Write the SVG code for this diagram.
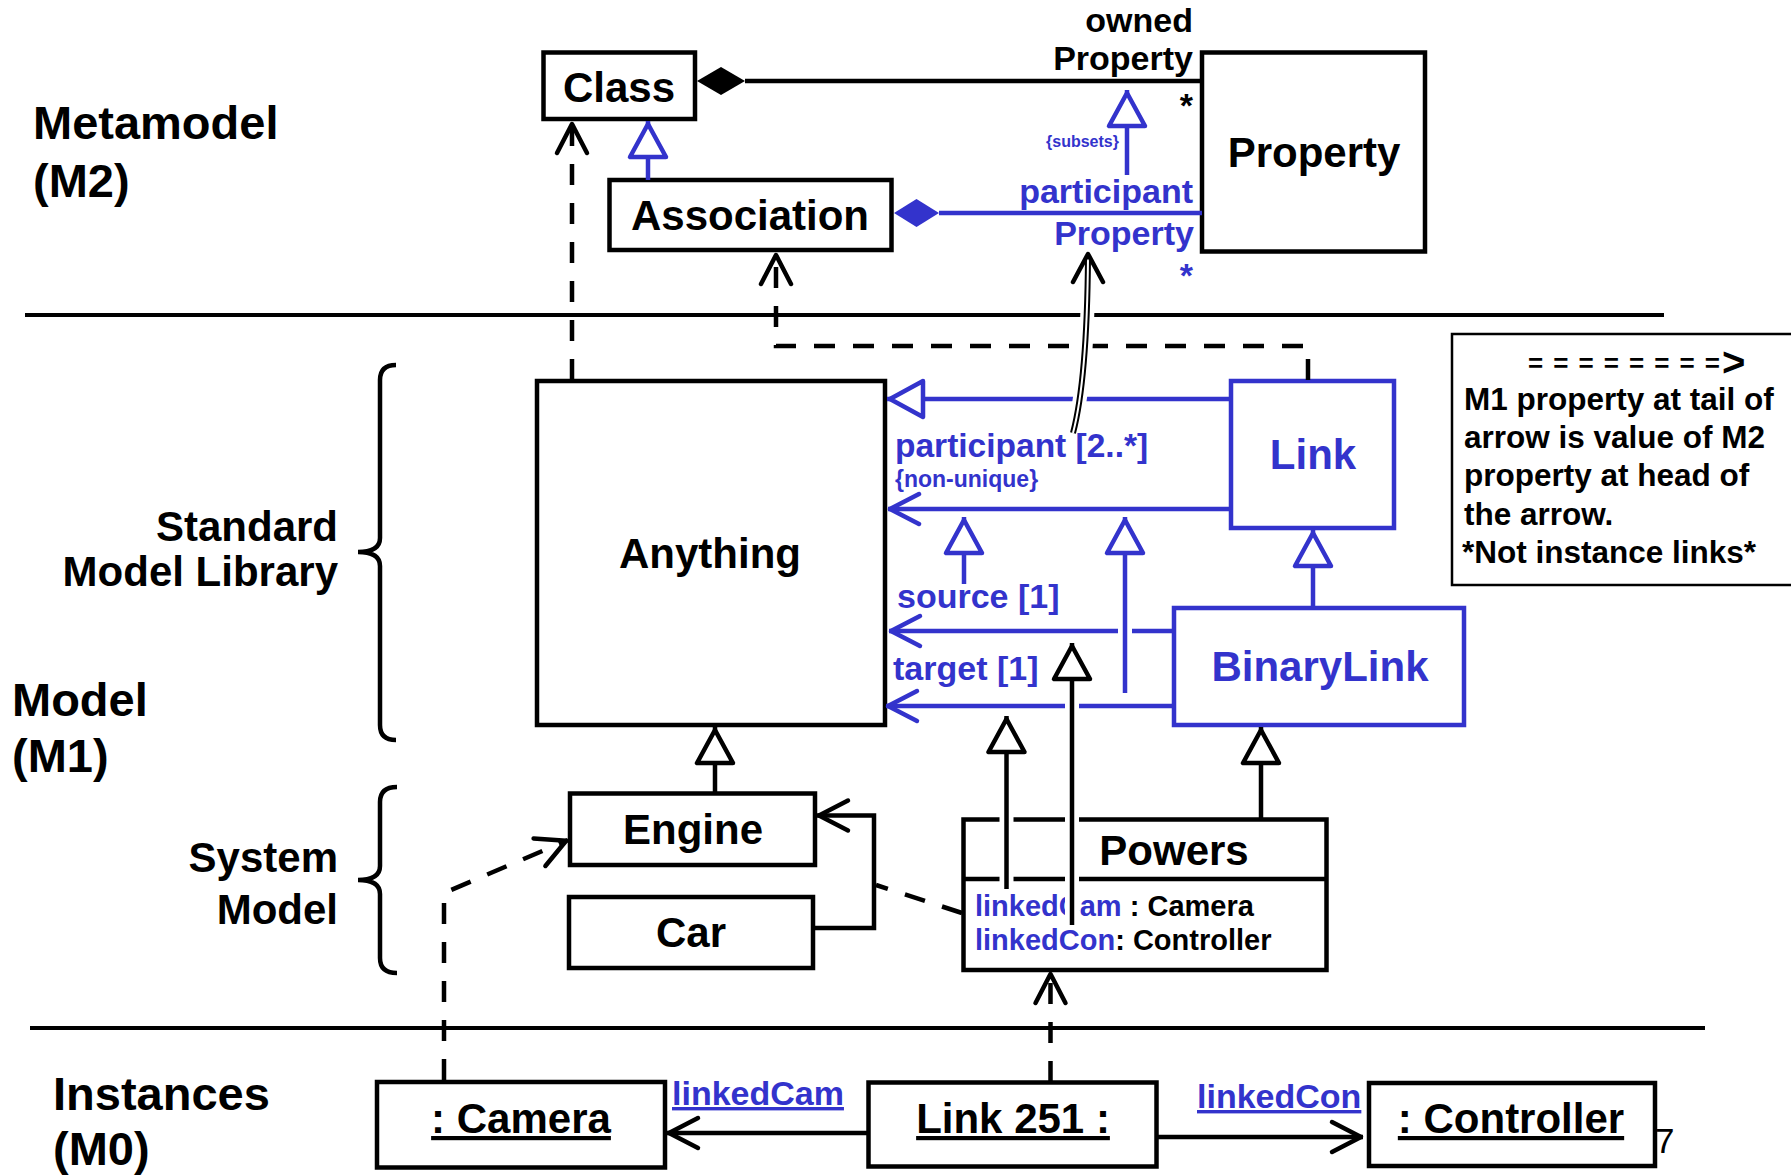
<svg xmlns="http://www.w3.org/2000/svg" width="1791" height="1176" viewBox="0 0 1791 1176">
<style>
text{font-family:"Liberation Sans",Arial,Helvetica,sans-serif;font-weight:bold;fill:#000}
.b{fill:#3333cc}
.box{fill:#fff;stroke:#000;stroke-width:4.5}
.bbox{fill:#fff;stroke:#3333cc;stroke-width:4.5}
.ln{fill:none;stroke:#000;stroke-width:4.5}
.bln{fill:none;stroke:#3333cc;stroke-width:4.5}
.dash{stroke-dasharray:21 18}
.halo{fill:none;stroke:#fff;stroke-width:14}
.sep{fill:none;stroke:#000;stroke-width:4}
.n42{font-size:42px}
.lay{font-size:47px}
.nt{font-size:31.5px}
.m{text-anchor:middle}
.e{text-anchor:end}
</style>
<defs>
<marker id="oa" markerUnits="userSpaceOnUse" viewBox="-40 -25 50 50" markerWidth="50" markerHeight="50" refX="0" refY="0" orient="auto" overflow="visible">
<path d="M-31,-15 L-2,0 L-31,15" fill="none" stroke="#000" stroke-width="4.5" stroke-linecap="round" stroke-linejoin="round"/>
</marker>
<marker id="oab" markerUnits="userSpaceOnUse" viewBox="-40 -25 50 50" markerWidth="50" markerHeight="50" refX="0" refY="0" orient="auto" overflow="visible">
<path d="M-31,-15 L-2,0 L-31,15" fill="none" stroke="#3333cc" stroke-width="4.5" stroke-linecap="round" stroke-linejoin="round"/>
</marker>
<marker id="ht" markerUnits="userSpaceOnUse" viewBox="-45 -25 50 50" markerWidth="50" markerHeight="50" refX="0" refY="0" orient="auto" overflow="visible">
<path d="M-3,0 L-36,-18 L-36,18 Z" fill="#fff" stroke="#000" stroke-width="4.5" stroke-linejoin="round"/>
</marker>
<marker id="htb" markerUnits="userSpaceOnUse" viewBox="-45 -25 50 50" markerWidth="50" markerHeight="50" refX="0" refY="0" orient="auto" overflow="visible">
<path d="M-3,0 L-36,-18 L-36,18 Z" fill="#fff" stroke="#3333cc" stroke-width="4.5" stroke-linejoin="round"/>
</marker>
</defs>
<rect width="1791" height="1176" fill="#fff"/>

<g id="layers">
<path class="sep" d="M25,315 H1664"/>
<path class="sep" d="M30,1028 H1705"/>
<text x="33" y="139" class="lay">Metamodel</text>
<text x="33" y="197" class="lay">(M2)</text>
<text x="338" y="541" class="e n42">Standard</text>
<text x="338" y="586" class="e n42">Model Library</text>
<text x="12" y="716" class="lay">Model</text>
<text x="12" y="772" class="lay">(M1)</text>
<text x="338" y="872" class="e n42">System</text>
<text x="338" y="924" class="e n42">Model</text>
<text x="53" y="1110" class="lay">Instances</text>
<text x="53" y="1165" class="lay">(M0)</text>
<path class="ln" d="M396,365 Q380,365 380,380 L380,538 Q380,552 358,552 Q380,552 380,566 L380,725 Q380,740 396,740"/>
<path class="ln" d="M397,787 Q380,787 380,802 L380,866 Q380,880 358,880 Q380,880 380,894 L380,958 Q380,973 397,973"/>
<text x="1655" y="1153" style="font-size:35px;font-weight:normal">7</text>
</g>

<g id="node-class"><rect class="box" x="543.5" y="52.5" width="151.5" height="66.5"/><text x="619" y="102" class="m n42">Class</text></g>
<g id="node-association"><rect class="box" x="609.5" y="180" width="282" height="70"/><text x="750" y="230" class="m n42">Association</text></g>
<g id="node-property"><rect class="box" x="1202" y="52.5" width="223" height="199"/><text x="1314" y="167" class="m n42">Property</text></g>
<g id="node-anything"><rect class="box" x="537" y="381" width="348" height="344"/><text x="710" y="568" class="m n42">Anything</text></g>
<g id="node-link"><rect class="bbox" x="1231" y="381" width="163" height="147"/><text x="1313" y="469" class="m n42 b">Link</text></g>
<g id="node-binarylink"><rect class="bbox" x="1174" y="608" width="290" height="117"/><text x="1320" y="681" class="m n42 b">BinaryLink</text></g>
<g id="node-engine"><rect class="box" x="570" y="793.5" width="245" height="71.5"/><text x="693" y="844" class="m n42">Engine</text></g>
<g id="node-car"><rect class="box" x="569" y="897" width="244" height="71"/><text x="691" y="947" class="m n42">Car</text></g>
<g id="node-powers"><rect class="box" x="963.5" y="819.5" width="363" height="150.5"/><path class="ln" d="M963.5,879 H1326.5"/><text x="1174" y="865" class="m n42">Powers</text>
<text x="975" y="916" style="font-size:29px"><tspan class="b">linkedCam</tspan> : Camera</text>
<text x="975" y="950" style="font-size:29px"><tspan class="b">linkedCon</tspan>: Controller</text></g>
<g id="node-camera"><rect class="box" x="377" y="1082" width="288" height="85.5"/><text x="521" y="1133" class="m n42" text-decoration="underline">: Camera</text></g>
<g id="node-link251"><rect class="box" x="868.5" y="1082.5" width="288" height="84"/><text x="1013" y="1133" class="m n42" text-decoration="underline">Link 251 :</text></g>
<g id="node-controller"><rect class="box" x="1369" y="1083" width="286" height="83"/><text x="1511" y="1133" class="m n42" text-decoration="underline">: Controller</text></g>
<g id="node-note"><rect x="1452" y="334" width="345" height="251" fill="#fff" stroke="#000" stroke-width="2.5"/>
<text x="1528" y="372" style="font-size:26px" textLength="192" lengthAdjust="spacing">========</text>
<text x="1722" y="376" style="font-size:40px">&gt;</text>
<text x="1464" y="410" class="nt">M1 property at tail of</text>
<text x="1464" y="448" class="nt">arrow is value of M2</text>
<text x="1464" y="486" class="nt">property at head of</text>
<text x="1464" y="525" class="nt">the arrow.</text>
<text x="1462" y="563" class="nt">*Not instance links*</text>
</g>

<g id="connectors">
<path class="ln" d="M745,81 H1202"/>
<polygon points="697,81 721,67 745,81 721,95" fill="#000"/>
<text x="1193" y="32" class="e" style="font-size:34px">owned</text>
<text x="1193" y="70" class="e" style="font-size:34px">Property</text>
<text x="1193" y="117" class="e" style="font-size:34px">*</text>
<path class="bln" d="M939,213 H1202"/>
<polygon points="894,213 916.5,199 939,213 916.5,227" fill="#3333cc"/>
<text x="1193" y="203" class="e b" style="font-size:34px">participant</text>
<text x="1194" y="245" class="e b" style="font-size:34px">Property</text>
<text x="1193" y="287" class="e b" style="font-size:34px">*</text>
<path class="bln" d="M648,180 V121" marker-end="url(#htb)"/>
<path class="bln" d="M1127,175 V90" marker-end="url(#htb)"/>
<text x="1046" y="147" class="b" style="font-size:16px">{subsets}</text>
<path class="ln dash" d="M572,380 V122" marker-end="url(#oa)"/>
<path class="ln dash" d="M1308,380 V346 H776 V253" marker-end="url(#oa)"/>
<path class="bln" d="M1231,399 H887" marker-end="url(#htb)"/>
<path class="bln" d="M1231,509 H888" marker-end="url(#oab)"/>
<text x="895" y="457" class="b" style="font-size:33.5px">participant [2..*]</text>
<text x="895" y="487" class="b" style="font-size:23px">{non-unique}</text>
<path class="bln" d="M1174,631 H889" marker-end="url(#oab)"/>
<text x="897" y="608" class="b" style="font-size:34px">source [1]</text>
<path class="bln" d="M1174,706 H886" marker-end="url(#oab)"/>
<text x="893" y="680" class="b" style="font-size:34px">target [1]</text>
<path class="bln" d="M964,584 V517" marker-end="url(#htb)"/>
<path class="bln" d="M1313,607 V530" marker-end="url(#htb)"/>
<path class="ln" d="M715,793 V727" marker-end="url(#ht)"/>
<path class="ln" d="M1261,819 V727" marker-end="url(#ht)"/>
<path class="ln" d="M815,928 H874 V815.5 H817" marker-end="url(#oa)"/>
<path class="ln dash" d="M962,913 L876,885"/>
<path class="ln dash" d="M444,1080 V893 L568,840" marker-end="url(#oa)"/>
<path class="ln dash" d="M1050.5,1082 V972" marker-end="url(#oa)"/>
<path class="ln" d="M869,1133 H667" marker-end="url(#oa)"/>
<text x="672" y="1105" class="b" style="font-size:34px" text-decoration="underline">linkedCam</text>
<path class="ln" d="M1157,1137 H1363" marker-end="url(#oa)"/>
<text x="1197" y="1108" class="b" style="font-size:34px" text-decoration="underline">linkedCon</text>
<path class="halo" d="M1125,688 V562"/>
<path class="bln" d="M1125,693 V517" marker-end="url(#htb)"/>
<path class="halo" d="M1006.5,886 V755"/>
<path class="ln" d="M1006.5,889 V716" marker-end="url(#ht)"/>
<path class="halo" d="M1072,921 V684"/>
<path class="ln" d="M1072,925 V643" marker-end="url(#ht)"/>
<path class="halo" d="M1073,431 Q1087,380 1088,285"/>
<path d="M1073,433 Q1087,380 1088,258" fill="none" stroke="#000" stroke-width="6"/>
<path d="M1073,433 Q1087,380 1088,258" fill="none" stroke="#fff" stroke-width="2"/>
<path d="M1073,282 L1088,254 L1103,282" fill="none" stroke="#000" stroke-width="4.5" stroke-linecap="round" stroke-linejoin="round"/>
</g>
</svg>
